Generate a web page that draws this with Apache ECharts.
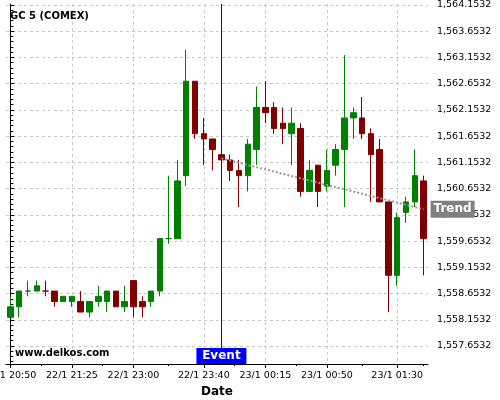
<!DOCTYPE html>
<html>
<head>
<meta charset="utf-8">
<script src="https://cdn.jsdelivr.net/npm/echarts@6/dist/echarts.min.js"></script>
<style>
  html, body { margin: 0; padding: 0; background: #fff; }
  #chart { width: 500px; height: 400px; }
</style>
</head>
<body>
<div id="chart"></div>
<script>
// 5 minute bars, GC 5 (COMEX)
const times = [
  "22/1 20:50", "22/1 20:55", "22/1 21:00", "22/1 21:05", "22/1 21:10", "22/1 21:15", "22/1 21:20",
  "22/1 21:25", "22/1 21:30", "22/1 21:35", "22/1 21:40", "22/1 21:45", "22/1 21:50", "22/1 21:55",
  "22/1 23:00", "22/1 23:05", "22/1 23:10", "22/1 23:15", "22/1 23:20", "22/1 23:25", "22/1 23:30",
  "22/1 23:35", "22/1 23:40", "22/1 23:45", "22/1 23:50", "22/1 23:55", "23/1 00:00", "23/1 00:05",
  "23/1 00:10", "23/1 00:15", "23/1 00:20", "23/1 00:25", "23/1 00:30", "23/1 00:35", "23/1 00:40",
  "23/1 00:45", "23/1 00:50", "23/1 00:55", "23/1 01:00", "23/1 01:05", "23/1 01:10", "23/1 01:15",
  "23/1 01:20", "23/1 01:25", "23/1 01:30", "23/1 01:35", "23/1 01:40", "23/1 01:45"
];
const opens = [
  1558.2, 1558.4, 1558.7, 1558.7, 1558.7, 1558.7, 1558.5, 1558.5, 1558.5, 1558.3, 1558.5, 1558.5,
  1558.7, 1558.4, 1558.9, 1558.5, 1558.5, 1558.7, 1559.7, 1559.7, 1560.9, 1562.7, 1561.7, 1561.6,
  1561.3, 1561.2, 1561.0, 1560.9, 1561.4, 1562.2, 1562.2, 1561.9, 1561.7, 1561.8, 1560.6, 1561.1,
  1560.7, 1561.1, 1561.4, 1562.0, 1562.0, 1561.7, 1561.4, 1560.4, 1559.0, 1560.2, 1560.4, 1560.8
];
const closes = [
  1558.4, 1558.7, 1558.7, 1558.8, 1558.7, 1558.5, 1558.6, 1558.6, 1558.3, 1558.5, 1558.6, 1558.7,
  1558.4, 1558.5, 1558.4, 1558.4, 1558.7, 1559.7, 1559.7, 1560.8, 1562.7, 1561.7, 1561.6, 1561.4,
  1561.2, 1561.0, 1560.9, 1561.5, 1562.2, 1562.1, 1561.8, 1561.8, 1561.9, 1560.6, 1561.0, 1560.6,
  1561.0, 1561.4, 1562.0, 1562.1, 1561.7, 1561.3, 1560.4, 1559.0, 1560.1, 1560.4, 1560.9, 1559.7
];
const lows = [
  1558.2, 1558.2, 1558.6, 1558.7, 1558.6, 1558.4, 1558.5, 1558.4, 1558.3, 1558.2, 1558.4, 1558.3,
  1558.4, 1558.3, 1558.2, 1558.2, 1558.4, 1558.6, 1559.6, 1559.7, 1560.7, 1561.6, 1561.1, 1561.0,
  1561.2, 1560.8, 1560.3, 1560.6, 1561.1, 1561.9, 1561.7, 1561.5, 1561.1, 1560.5, 1560.6, 1560.3,
  1560.6, 1560.9, 1560.3, 1561.6, 1561.6, 1560.4, 1560.4, 1558.3, 1558.8, 1560.0, 1560.3, 1559.0
];
const highs = [
  1558.6, 1558.7, 1558.9, 1558.9, 1558.9, 1558.7, 1558.6, 1558.6, 1558.7, 1558.5, 1558.8, 1558.7,
  1558.7, 1558.8, 1558.9, 1558.6, 1558.7, 1559.7, 1560.9, 1561.2, 1563.3, 1562.7, 1562.0, 1561.6,
  1561.3, 1561.3, 1561.2, 1561.6, 1562.6, 1562.7, 1562.3, 1562.2, 1562.2, 1561.9, 1561.2, 1561.1,
  1561.4, 1561.5, 1563.2, 1562.2, 1562.4, 1561.8, 1561.6, 1560.4, 1560.2, 1560.5, 1561.4, 1560.9
];

// x labels that are shown
const shownTimes = ["22/1 20:50", "22/1 21:25", "22/1 23:00", "22/1 23:40", "23/1 00:15", "23/1 00:50", "23/1 01:30"];
// y tick labels
const yTicks = [1557.6532, 1558.1532, 1558.6532, 1559.1532, 1559.6532, 1560.1532, 1560.6532,
  1561.1532, 1561.6532, 1562.1532, 1562.6532, 1563.1532, 1563.6532, 1564.1532];
const yMin = 1557.31;
const yMax = 1564.172;

const eventTime = "22/1 23:50";
const trendFrom = "22/1 23:50";
const trendTo = "23/1 01:45";
const trendStart = 1561.23;
const trendEnd = 1560.26;

const font = "DejaVu Sans";
const green = "#008000";
const red = "#800000";
const gridColor = "#c8c8c8";

let ohlc = times.map((t, i) => [opens[i], closes[i], lows[i], highs[i]]);
let majorIdx = shownTimes.map(t => times.indexOf(t));
let minorX = [3.5, 10.5, 18, 25.5, 32.5, 40, 47];
let yMinor = [];
for (let i = -3; i < (yTicks.length - 1) * 5 + 1; i++) {
  if (i % 5 !== 0) yMinor.push(+(yTicks[0] + i * 0.1).toFixed(4));
}

function fmt(v) {
  const parts = v.toFixed(4).split(".");
  return parts[0].replace(/\B(?=(\d{3})+(?!\d))/g, ",") + "." + parts[1];
}

const boxLabel = {
  show: true,
  position: "inside",
  color: "#fff",
  fontFamily: font,
  fontWeight: "bold",
  fontSize: 12
};

const chart = echarts.init(document.getElementById("chart"));
chart.setOption({
  animation: false,
  title: {
    text: "GC 5 (COMEX)",
    left: 10,
    top: 11,
    padding: 0,
    textStyle: { fontFamily: font, fontWeight: "bold", fontSize: 10, color: "#000" }
  },
  graphic: [{
    type: "text",
    left: 15,
    top: 348,
    z: 10,
    style: { text: "www.delkos.com", font: 'bold 10px "DejaVu Sans"', fill: "#000" }
  }],
  grid: { left: 6, right: 72, top: 4, bottom: 36, containLabel: false, outerBoundsMode: "none" },
  xAxis: [
    {
      type: "category",
      data: times,
      boundaryGap: true,
      axisLine: { lineStyle: { color: "#000", width: 1 } },
      axisTick: { show: false },
      splitLine: { show: false },
      axisLabel: {
        interval: (i, v) => shownTimes.includes(v),
        color: "#000",
        fontFamily: font,
        fontSize: 9.5,
        margin: 7
      },
      name: "Date",
      nameLocation: "middle",
      nameGap: 17,
      nameTextStyle: { fontFamily: font, fontWeight: "bold", fontSize: 12, color: "#000" }
    },
    {
      type: "value",
      position: "bottom",
      min: -0.5,
      max: times.length - 0.5,
      axisLine: { show: false },
      axisLabel: { show: false },
      axisTick: { show: true, customValues: majorIdx, length: 4, lineStyle: { color: "#000" } },
      splitLine: { show: true, lineStyle: { color: gridColor, type: [3, 3] } }
    },
    {
      type: "value",
      position: "bottom",
      min: -0.5,
      max: times.length - 0.5,
      axisLine: { show: false },
      axisLabel: { show: false },
      axisTick: { show: true, customValues: minorX, length: 2, lineStyle: { color: "#000" } },
      splitLine: { show: false }
    }
  ],
  yAxis: [
    {
      type: "value",
      position: "right",
      min: yMin,
      max: yMax,
      axisLine: { show: true, lineStyle: { color: "#000" } },
      axisTick: { show: true, customValues: yTicks, length: 4, lineStyle: { color: "#000" } },
      axisLabel: {
        customValues: yTicks,
        formatter: fmt,
        color: "#000",
        fontFamily: font,
        fontSize: 9.5,
        margin: 9
      },
      splitLine: { show: true, lineStyle: { color: gridColor, type: [3, 3] } }
    },
    {
      type: "value",
      position: "right",
      min: yMin,
      max: yMax,
      axisLine: { show: false },
      axisTick: { show: true, customValues: yMinor, length: 3, lineStyle: { color: "#000" } },
      axisLabel: { show: false },
      splitLine: { show: false }
    }
  ],
  series: [{
    type: "candlestick",
    xAxisIndex: 0,
    yAxisIndex: 0,
    data: ohlc,
    barWidth: 6,
    itemStyle: {
      color: green,
      color0: red,
      borderColor: green,
      borderColor0: red,
      borderWidth: 1
    },
    markLine: {
      silent: true,
      animation: false,
      symbol: ["none", "none"],
      label: { show: false },
      data: [
        { xAxis: eventTime, lineStyle: { color: "#0000ff", width: 1, type: "solid" } },
        [
          { coord: [trendFrom, trendStart], lineStyle: { color: "#999", width: 2, type: [2, 2] } },
          { coord: [trendTo, trendEnd], lineStyle: { color: "#999", width: 2, type: [2, 2] } }
        ]
      ]
    },
    markPoint: {
      silent: true,
      animation: false,
      data: [
        {
          coord: [eventTime, yMin],
          symbol: "rect",
          symbolSize: [50, 16],
          symbolOffset: [0, -8],
          itemStyle: { color: "#0000ff" },
          label: Object.assign({ formatter: "Event" }, boxLabel)
        },
        {
          coord: [trendTo, trendEnd],
          symbol: "rect",
          symbolSize: [44, 17],
          symbolOffset: [29, 0],
          itemStyle: { color: "#808080" },
          label: Object.assign({ formatter: "Trend" }, boxLabel)
        }
      ]
    }
  }]
});
</script>
</body>
</html>
